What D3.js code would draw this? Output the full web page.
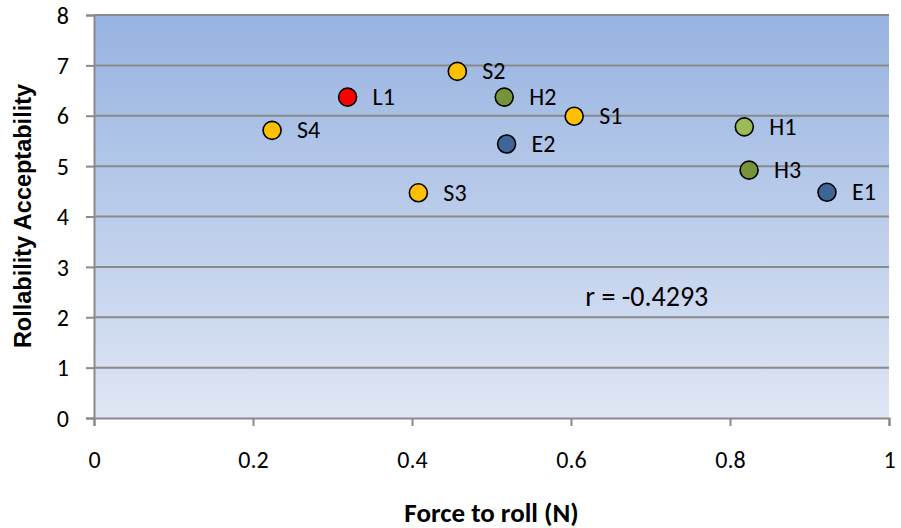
<!DOCTYPE html>
<html>
<head>
<meta charset="utf-8">
<script src="https://cdn.jsdelivr.net/npm/d3@7"></script>
<style>
  body { margin: 0; background: #fff; }
  svg { display: block; }
</style>
</head>
<body>
<div id="chart"></div>
<script>
// data
var labels = ["L1", "S2", "H2", "S1", "S4", "E2", "S3", "H1", "H3", "E1"];
var forceToRoll = [0.319, 0.457, 0.516, 0.604, 0.224, 0.519, 0.408, 0.818, 0.824, 0.922];
var acceptability = [6.37, 6.88, 6.37, 5.99, 5.71, 5.44, 4.47, 5.78, 4.92, 4.48];
var group = ["L", "S", "H", "S", "S", "E", "S", "Ha", "H", "E"];
var xTicks = [0, 0.2, 0.4, 0.6, 0.8, 1];
var yTicks = [0, 1, 2, 3, 4, 5, 6, 7, 8];
var corrText = "r = -0.4293";

var colors = { L: "#ff0000", S: "#ffc000", H: "#77933c", Ha: "#9bbb59", E: "#3c6696" };
var font = "Carlito, Calibri, 'Open Sans', sans-serif";

var W = 901, H = 528;
var margin = { top: 15, right: 12, bottom: 110, left: 94 };

var svg = d3.select("#chart").append("svg")
    .attr("width", W)
    .attr("height", H);

var x = d3.scaleLinear().domain([0, 1]).range([margin.left, W - margin.right]);
var y = d3.scaleLinear().domain([0, 8]).range([H - margin.bottom, margin.top]);

// background gradient
var grad = svg.append("defs").append("linearGradient")
    .attr("id", "bg")
    .attr("x1", 0).attr("y1", 0).attr("x2", 0).attr("y2", 1);
grad.append("stop").attr("offset", "0%").attr("stop-color", "#97b3e1");
grad.append("stop").attr("offset", "100%").attr("stop-color", "#dfe6f4");

svg.append("rect")
    .attr("x", x(0))
    .attr("y", y(8))
    .attr("width", x(1) - x(0))
    .attr("height", y(0) - y(8))
    .attr("fill", "url(#bg)");

// gridlines
svg.append("g")
    .selectAll("line")
    .data(yTicks.slice(1))
    .enter()
    .append("line")
    .attr("x1", x(0))
    .attr("x2", x(1))
    .attr("y1", function(d) { return y(d); })
    .attr("y2", function(d) { return y(d); })
    .attr("stroke", "#898989")
    .attr("stroke-width", 2);

// axes
var yAxis = d3.axisLeft(y).tickValues(yTicks).tickSize(8).tickPadding(17)
    .tickFormat(d3.format("d"));
var xAxis = d3.axisBottom(x).tickValues(xTicks).tickSize(8).tickPadding(25)
    .tickFormat(function(d) { return d === 0 || d === 1 ? d : d.toFixed(1); });

var yG = svg.append("g")
    .attr("transform", "translate(" + x(0) + ",0)")
    .call(yAxis);
var xG = svg.append("g")
    .attr("transform", "translate(0," + y(0) + ")")
    .call(xAxis);

[yG, xG].forEach(function(g) {
    g.select(".domain").attr("stroke", "#898989").attr("stroke-width", 2);
    g.selectAll(".tick line").attr("stroke", "#898989").attr("stroke-width", 2);
    g.selectAll(".tick text")
        .attr("fill", "#000")
        .style("font-family", font)
        .style("font-size", "24px");
});
yG.selectAll(".tick text").attr("dy", "0.34em");

// points
var pts = labels.map(function(d, i) {
    return { name: d, fx: forceToRoll[i], acc: acceptability[i], g: group[i] };
});

svg.append("g")
    .selectAll("circle")
    .data(pts)
    .enter()
    .append("circle")
    .attr("cx", function(d) { return x(d.fx); })
    .attr("cy", function(d) { return y(d.acc); })
    .attr("r", 9)
    .attr("fill", function(d) { return colors[d.g]; })
    .attr("stroke", "#000")
    .attr("stroke-width", 1.6);

svg.append("g")
    .selectAll("text")
    .data(pts)
    .enter()
    .append("text")
    .attr("x", function(d) { return x(d.fx) + 25; })
    .attr("y", function(d) { return y(d.acc) + 8; })
    .text(function(d) { return d.name; })
    .style("font-family", font)
    .style("font-size", "24px")
    .attr("fill", "#000");

// correlation note
svg.append("text")
    .attr("x", x(0.618))
    .attr("y", y(2.22))
    .text(corrText)
    .style("font-family", font)
    .style("font-size", "28px")
    .attr("fill", "#000");

// axis titles
svg.append("text")
    .attr("x", (x(0) + x(1)) / 2)
    .attr("y", 522)
    .attr("text-anchor", "middle")
    .text("Force to roll (N)")
    .style("font-family", font)
    .style("font-size", "27px")
    .style("font-weight", "bold");

svg.append("text")
    .attr("transform", "translate(31,216) rotate(-90)")
    .attr("text-anchor", "middle")
    .text("Rollability Acceptability")
    .style("font-family", "'Liberation Sans', Arial, sans-serif")
    .style("font-size", "23.5px")
    .style("font-weight", "bold");
</script>
</body>
</html>
